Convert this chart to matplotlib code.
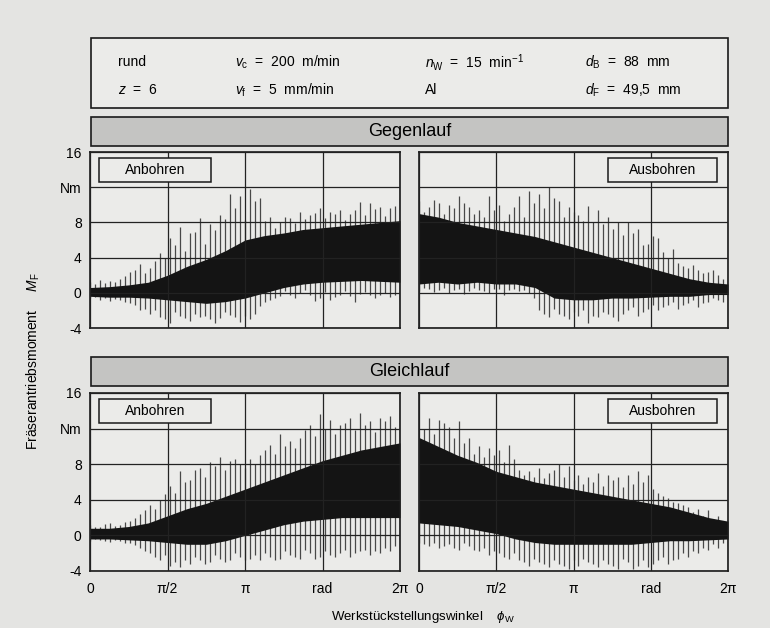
import numpy as np
import matplotlib
matplotlib.use("Agg")
import matplotlib.pyplot as plt
from matplotlib.patches import Rectangle

plt.rcParams['font.family'] = ['Liberation Sans', 'DejaVu Sans']
plt.rcParams['mathtext.fontset'] = 'custom'
plt.rcParams['mathtext.rm'] = 'Liberation Sans'
plt.rcParams['mathtext.it'] = 'Liberation Sans:italic'
plt.rcParams['hatch.color'] = '#9a9a98'
plt.rcParams['hatch.linewidth'] = 0.5

# ---- data ----
# spike envelope: 63 samples over 0..2pi ; dense core band: 17 samples over 0..2pi
gg_an_spk_hi = [1.2, 1.0, 1.5, 1.1, 1.3, 1.2, 1.6, 1.9, 2.4,
                2.6, 3.3, 2.2, 2.8, 3.6, 4.5, 3.9, 6.2, 5.4,
                7.5, 4.8, 6.8, 6.9, 8.5, 5.6, 7.8, 7.1, 8.8,
                8.4, 11.2, 9.6, 11.0, 8.3, 11.8, 10.4, 10.8, 8.2,
                8.6, 7.4, 8.0, 8.6, 8.5, 7.9, 9.2, 8.4, 8.8,
                9.1, 9.6, 8.5, 9.2, 8.9, 9.4, 8.3, 9.0, 9.4,
                10.3, 8.8, 10.2, 9.5, 9.8, 8.7, 9.6, 9.9, 10.8]
gg_an_spk_lo = [-0.6, -0.5, -0.8, -0.6, -0.9, -0.7, -0.8, -1.0, -1.2,
                -1.4, -2.0, -1.8, -2.4, -2.0, -2.8, -3.0, -3.4, -2.2,
                -2.6, -2.9, -3.2, -2.4, -2.8, -2.6, -3.0, -3.4, -2.9,
                -2.2, -2.5, -2.8, -3.3, -2.6, -3.0, -2.4, -1.5, -1.0,
                -0.8, -0.6, -0.4, 0.2, -0.2, -0.6, 0.0, 0.3, -0.2,
                -0.9, -0.6, 0.1, -0.8, -0.5, -0.2, 0.2, -0.4, -1.0,
                -0.1, 0.1, -0.3, -0.6, -0.2, 0.0, -0.5, -0.3, -0.9]
gg_an_core_hi = [0.6, 0.7, 0.9, 1.2, 2.0, 3.0, 3.8, 4.8, 6.0, 6.5, 6.8, 7.2, 7.4, 7.6, 7.8, 8.0, 8.2]
gg_an_core_lo = [-0.4, -0.5, -0.5, -0.6, -0.8, -1.0, -1.2, -1.0, -0.6, 0.0, 0.6, 1.0, 1.2, 1.3, 1.4, 1.3, 1.2]

gg_aus_spk_hi = [10.4, 9.2, 9.8, 10.6, 10.2, 9.0, 10.0, 9.6, 11.0,
                 10.2, 9.8, 9.0, 9.4, 8.6, 11.0, 9.4, 10.0, 8.2,
                 9.0, 9.8, 11.0, 8.6, 11.6, 10.2, 11.2, 9.6, 12.0,
                 10.8, 10.4, 8.6, 9.8, 9.2, 8.8, 8.2, 9.9, 8.0,
                 9.4, 7.8, 8.6, 7.2, 8.0, 6.6, 8.0, 6.8, 7.2,
                 5.4, 5.6, 6.4, 6.2, 4.6, 4.0, 5.0, 3.4, 3.0,
                 2.8, 3.2, 2.6, 2.2, 2.4, 2.6, 2.0, 1.6, 1.8]
gg_aus_spk_lo = [0.2, 0.6, 0.4, 0.1, 0.3, 0.5, 0.0, 0.3, 0.4,
                 -0.1, 0.2, 0.5, 0.3, 0.2, 0.0, 0.4, 0.4, -0.2,
                 0.3, 0.4, 0.2, 0.3, 0.0, -0.6, -2.0, -2.4, -2.8,
                 -1.8, -2.4, -2.6, -3.0, -2.2, -2.6, -2.0, -3.4, -2.6,
                 -2.8, -2.2, -2.4, -2.8, -3.2, -2.4, -2.0, -1.6, -2.6,
                 -2.2, -1.8, -1.4, -2.0, -1.6, -1.4, -1.0, -1.8, -1.4,
                 -1.2, -0.8, -1.6, -1.2, -1.0, -0.6, -0.8, -1.0, -0.8]
gg_aus_core_hi = [9.0, 8.6, 8.0, 7.6, 7.2, 6.8, 6.4, 5.8, 5.2, 4.6, 4.0, 3.4, 2.8, 2.2, 1.6, 1.2, 1.0]
gg_aus_core_lo = [1.0, 1.2, 1.0, 1.2, 1.0, 1.0, 0.6, -0.6, -0.8, -0.8, -0.6, -0.6, -0.5, -0.4, -0.4, -0.2, -0.2]

gl_an_spk_hi = [1.2, 0.9, 1.0, 1.3, 1.4, 1.1, 1.2, 1.5, 1.6,
                2.0, 2.4, 2.8, 3.4, 3.0, 4.0, 4.6, 5.6, 4.8,
                7.2, 6.0, 6.2, 7.4, 7.6, 6.6, 8.2, 7.8, 8.8,
                7.4, 8.4, 8.6, 8.0, 7.6, 8.6, 8.0, 9.0, 9.6,
                10.2, 9.2, 11.4, 10.0, 10.6, 9.8, 11.0, 11.8, 12.4,
                11.2, 13.6, 12.0, 13.0, 11.4, 12.4, 12.6, 13.2, 11.8,
                13.8, 12.4, 12.8, 11.6, 13.2, 12.8, 13.4, 12.2, 13.8]
gl_an_spk_lo = [-0.6, -0.4, -0.5, -0.6, -0.7, -0.5, -0.6, -0.9, -0.8,
                -1.1, -1.4, -1.8, -2.0, -2.4, -2.8, -2.2, -3.4, -3.0,
                -3.6, -2.8, -3.2, -2.4, -2.8, -3.2, -3.0, -2.2, -2.6,
                -3.0, -2.8, -2.0, -2.4, -2.8, -2.6, -2.2, -2.8, -2.0,
                -2.4, -2.8, -2.6, -1.8, -2.2, -2.4, -2.6, -1.6, -2.0,
                -2.6, -2.4, -1.8, -2.2, -2.4, -2.0, -1.6, -2.4, -2.0,
                -1.8, -1.6, -2.2, -1.8, -2.0, -1.4, -1.8, -1.2, -1.6]
gl_an_core_hi = [0.8, 0.8, 1.0, 1.4, 2.2, 3.0, 3.6, 4.4, 5.2, 6.0, 6.8, 7.6, 8.4, 9.0, 9.6, 10.0, 10.4]
gl_an_core_lo = [-0.4, -0.4, -0.5, -0.6, -0.8, -1.0, -1.0, -0.6, 0.0, 0.6, 1.2, 1.6, 1.8, 2.0, 2.0, 2.0, 2.0]

gl_aus_spk_hi = [10.8, 12.0, 13.2, 11.4, 13.0, 12.6, 12.2, 11.0, 12.8,
                 10.4, 11.0, 9.2, 10.0, 8.8, 9.8, 9.0, 9.6, 8.2,
                 10.2, 8.6, 7.4, 6.8, 7.2, 6.6, 7.6, 6.4, 7.0,
                 7.4, 8.0, 6.6, 7.8, 6.2, 6.8, 5.8, 6.6, 6.0,
                 7.0, 5.6, 6.8, 6.2, 6.6, 5.4, 6.8, 5.8, 7.2,
                 6.0, 6.8, 5.2, 4.8, 4.4, 4.2, 3.8, 3.6, 3.4,
                 3.2, 2.6, 3.0, 2.2, 2.8, 1.8, 2.2, 1.4, 1.6]
gl_aus_spk_lo = [-0.8, -1.0, -1.2, -0.8, -1.4, -1.2, -1.0, -1.4, -1.6,
                 -0.9, -1.2, -1.6, -1.8, -1.4, -2.2, -1.8, -2.0, -2.4,
                 -2.6, -2.0, -2.8, -3.0, -3.4, -2.6, -3.0, -3.2, -3.6,
                 -2.8, -3.2, -3.4, -3.8, -2.8, -3.4, -2.6, -3.0, -3.2,
                 -3.6, -2.8, -3.2, -3.4, -3.8, -2.6, -3.0, -3.8, -3.4,
                 -2.8, -3.6, -3.2, -2.8, -2.4, -3.2, -2.8, -2.6, -2.0,
                 -2.4, -1.8, -2.0, -1.4, -1.6, -1.0, -1.4, -0.9, -1.2]
gl_aus_core_hi = [11.0, 10.0, 9.0, 8.2, 7.2, 6.6, 6.0, 5.6, 5.2, 4.8, 4.4, 4.0, 3.6, 3.2, 2.6, 2.0, 1.6]
gl_aus_core_lo = [1.4, 1.2, 1.0, 0.6, 0.2, -0.4, -0.8, -1.0, -1.0, -1.0, -1.0, -1.0, -0.8, -0.6, -0.6, -0.5, -0.4]

y_ticks = [-4, 0, 4, 8, 12, 16]
y_labels = ['-4', '0', '4', '8', 'Nm', '16']
x_ticks = [0, np.pi / 2, np.pi, 3 * np.pi / 2, 2 * np.pi]
x_labels = ['0', '\u03c0/2', '\u03c0', 'rad', '2\u03c0']

params = [(118, 62, 'rund'), (118, 90, '$z$  =  6'),
          (235, 62, '$v_\\mathrm{c}$  =  200  m/min'), (235, 90, '$v_\\mathrm{f}$  =  5  mm/min'),
          (425, 62, '$n_\\mathrm{W}$  =  15  min$^{-1}$'), (425, 90, 'Al'),
          (585, 62, '$d_\\mathrm{B}$  =  88  mm'), (585, 90, '$d_\\mathrm{F}$  =  49,5  mm')]

W, H = 770, 628
BG = '#e4e4e2'
PANEL = '#ebebe9'

fig = plt.figure(figsize=(W / 100, H / 100), dpi=100, facecolor=BG)


def px_rect(x0, y0, x1, y1):
    # pixel box (top-left origin) -> figure fraction [l, b, w, h]
    return [x0 / W, 1 - y1 / H, (x1 - x0) / W, (y1 - y0) / H]


def fig_box(x0, y0, x1, y1, face, hatch=None):
    l, b, w, h = px_rect(x0, y0, x1, y1)
    fig.add_artist(Rectangle((l, b), w, h, transform=fig.transFigure, facecolor=face,
                             edgecolor='none', hatch=hatch, lw=0))
    fig.add_artist(Rectangle((l, b), w, h, transform=fig.transFigure, facecolor='none',
                             edgecolor='#1a1a1a', lw=1.2))


# parameter box
fig_box(91, 38, 728, 108, PANEL)
for x, y, s in params:
    fig.text(x / W, 1 - y / H, s, fontsize=10, va='center', ha='left')

# section bars
fig_box(91, 117, 728, 146, '#c4c4c2', hatch='......')
fig.text(409.5 / W, 1 - 131.5 / H, 'Gegenlauf', fontsize=13, ha='center', va='center')
fig_box(91, 357, 728, 386, '#c4c4c2', hatch='......')
fig.text(409.5 / W, 1 - 371.5 / H, 'Gleichlauf', fontsize=13, ha='center', va='center')

panels = [
    (px_rect(90, 152, 400, 328), gg_an_spk_hi, gg_an_spk_lo, gg_an_core_hi, gg_an_core_lo, 'Anbohren', True, False),
    (px_rect(419, 152, 728, 328), gg_aus_spk_hi, gg_aus_spk_lo, gg_aus_core_hi, gg_aus_core_lo, 'Ausbohren', False, False),
    (px_rect(90, 393, 400, 571), gl_an_spk_hi, gl_an_spk_lo, gl_an_core_hi, gl_an_core_lo, 'Anbohren', True, True),
    (px_rect(419, 393, 728, 571), gl_aus_spk_hi, gl_aus_spk_lo, gl_aus_core_hi, gl_aus_core_lo, 'Ausbohren', False, True),
]

for rect, s_hi, s_lo, c_hi, c_lo, tag, left, bottom in panels:
    ax = fig.add_axes(rect, facecolor=PANEL)
    xs = np.linspace(0, 2 * np.pi, len(s_hi))
    xc = np.linspace(0, 2 * np.pi, len(c_hi))
    ax.vlines(xs, s_lo, s_hi, color='#484848', lw=0.9, zorder=1)
    ax.fill_between(xc, c_lo, c_hi, color='#141414', lw=0, zorder=2)
    ax.set_xlim(0, 2 * np.pi)
    ax.set_ylim(-4, 16)
    ax.set_xticks(x_ticks)
    ax.set_yticks(y_ticks)
    ax.grid(True, color='#222222', lw=0.9)
    ax.set_axisbelow(False)
    ax.tick_params(length=0, labelsize=10, pad=6)
    ax.tick_params(axis='x', pad=8)
    ax.set_yticklabels(y_labels if left else [])
    ax.set_xticklabels(x_labels if bottom else [])
    for sp in ax.spines.values():
        sp.set_linewidth(1.2)
        sp.set_color('#1a1a1a')
    if left:
        bx = (0.029, 0.83, 0.361, 0.136)
    else:
        bx = (0.612, 0.83, 0.352, 0.136)
    ax.add_patch(Rectangle(bx[:2], bx[2], bx[3], transform=ax.transAxes, facecolor=PANEL,
                           edgecolor='#1a1a1a', lw=1.1, zorder=5))
    ax.text(bx[0] + bx[2] / 2, bx[1] + bx[3] / 2, tag, transform=ax.transAxes,
            ha='center', va='center', fontsize=10, zorder=6)

fig.text(33 / W, 1 - 361 / H, 'Fr\u00e4serantriebsmoment     $M_\\mathrm{F}$', rotation=90,
         fontsize=10, ha='center', va='center')
fig.text(423 / W, 1 - 617 / H, 'Werkst\u00fcckstellungswinkel    $\\phi_\\mathrm{W}$',
         fontsize=9.5, ha='center', va='center')

fig.savefig('out.png', dpi=100, facecolor=BG)
